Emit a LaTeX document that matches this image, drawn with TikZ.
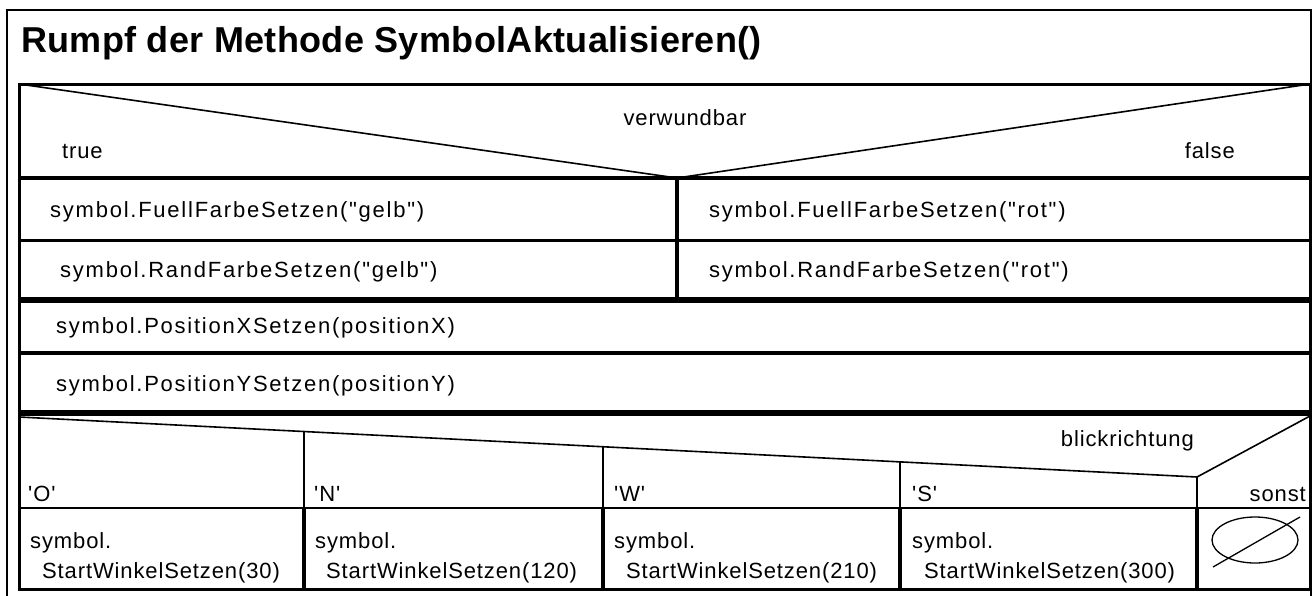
\documentclass[tikz,border=0pt]{standalone}
\usepackage{fontspec}
\newfontfamily\rowfont{Liberation Sans}[Ligatures=TeXOff,LetterSpace=8]
\newfontfamily\lblfont{Liberation Sans}[Ligatures=TeXOff,LetterSpace=4]
\newfontfamily\titlefont{Liberation Sans}[Ligatures=TeXOff,LetterSpace=1]
\begin{document}
\begin{tikzpicture}[x=1pt,y=-1pt,
  txt/.style={inner sep=0pt,anchor=base west,font=\rowfont\fontsize{22}{26}\selectfont},
  lbl/.style={inner sep=0pt,anchor=base west,font=\lblfont\fontsize{22}{26}\selectfont},
  lblc/.style={lbl,anchor=base},
  lblr/.style={lbl,anchor=base east},
  ttl/.style={inner sep=0pt,anchor=base west,font=\titlefont\bfseries\fontsize{36}{42}\selectfont},
  frame/.style={line width=2pt},
  box/.style={line width=3pt},
  diag/.style={line width=1.6pt},
  thin/.style={line width=2pt},
  mid/.style={line width=3.5pt},
  heavy/.style={line width=6.5pt},
  colline/.style={line width=4pt}]
\useasboundingbox (0,0) rectangle (1312,595);
\fill[white] (0,0) rectangle (1312,595);
% outer frame
\draw[frame] (7,600) -- (7,10) -- (1311,10) -- (1311,600);
\node[ttl] (title) at (21,52) {Rumpf der Methode SymbolAktualisieren()};
% inner box
\draw[box] (19,84) rectangle (1310,589);
% if header
\draw[diag] (19,84) -- (677,178) -- (1310,84);
\node[lblc] (cond) at (685,125) {verwundbar};
\node[lbl] (ttrue) at (62,158) {true};
\node[lblr] (tfalse) at (1235,158) {false};
\draw[mid] (19,178) -- (1310,178);
\draw[box] (19,240) -- (1310,240);
\draw[colline] (677,178) -- (677,300);
\node[txt] (f1) at (50,217) {symbol.FuellFarbeSetzen("gelb")};
\node[txt] (f2) at (709,217) {symbol.FuellFarbeSetzen("rot")};
\node[txt] (r1) at (60,277) {symbol.RandFarbeSetzen("gelb")};
\node[txt] (r2) at (709,277) {symbol.RandFarbeSetzen("rot")};
\draw[heavy] (19,300) -- (1310,300);
\node[txt] (px) at (56,333) {symbol.PositionXSetzen(positionX)};
\draw[mid] (19,353) -- (1310,353);
\node[txt] (py) at (56,391) {symbol.PositionYSetzen(positionY)};
\draw[heavy] (19,413) -- (1310,413);
% case header
\draw[diag] (19,417) -- (1197,477) -- (1310,416);
\node[lblr] (sel) at (1194,446) {blickrichtung};
\draw[thin] (304,431.5) -- (304,508);
\draw[thin] (603,446.7) -- (603,508);
\draw[thin] (900,461.9) -- (900,508);
\draw[thin] (1197,477) -- (1197,508);
\node[lbl] (cO) at (28,501) {'O'};
\node[lbl] (cN) at (314,501) {'N'};
\node[lbl] (cW) at (614,501) {'W'};
\node[lbl] (cS) at (912,501) {'S'};
\node[lblr] (cE) at (1306,501) {sonst};
\draw[thin] (19,508) -- (1310,508);
% case bodies
\draw[colline] (304,508) -- (304,589);
\draw[colline] (603,508) -- (603,589);
\draw[colline] (900,508) -- (900,589);
\draw[colline] (1197,508) -- (1197,589);
\node[lbl] (a1) at (30,548) {symbol.};
\node[lbl] (b1) at (42,578) {StartWinkelSetzen(30)};
\node[lbl] (a2) at (315,548) {symbol.};
\node[lbl] (b2) at (326,578) {StartWinkelSetzen(120)};
\node[lbl] (a3) at (614,548) {symbol.};
\node[lbl] (b3) at (626,578) {StartWinkelSetzen(210)};
\node[lbl] (a4) at (912,548) {symbol.};
\node[lbl] (b4) at (924,578) {StartWinkelSetzen(300)};
% empty branch symbol
\draw[line width=1.3pt] (1255,540) ellipse [x radius=43pt, y radius=23pt];
\draw[line width=1.3pt] (1213,567) -- (1300,517);
\end{tikzpicture}
\end{document}
